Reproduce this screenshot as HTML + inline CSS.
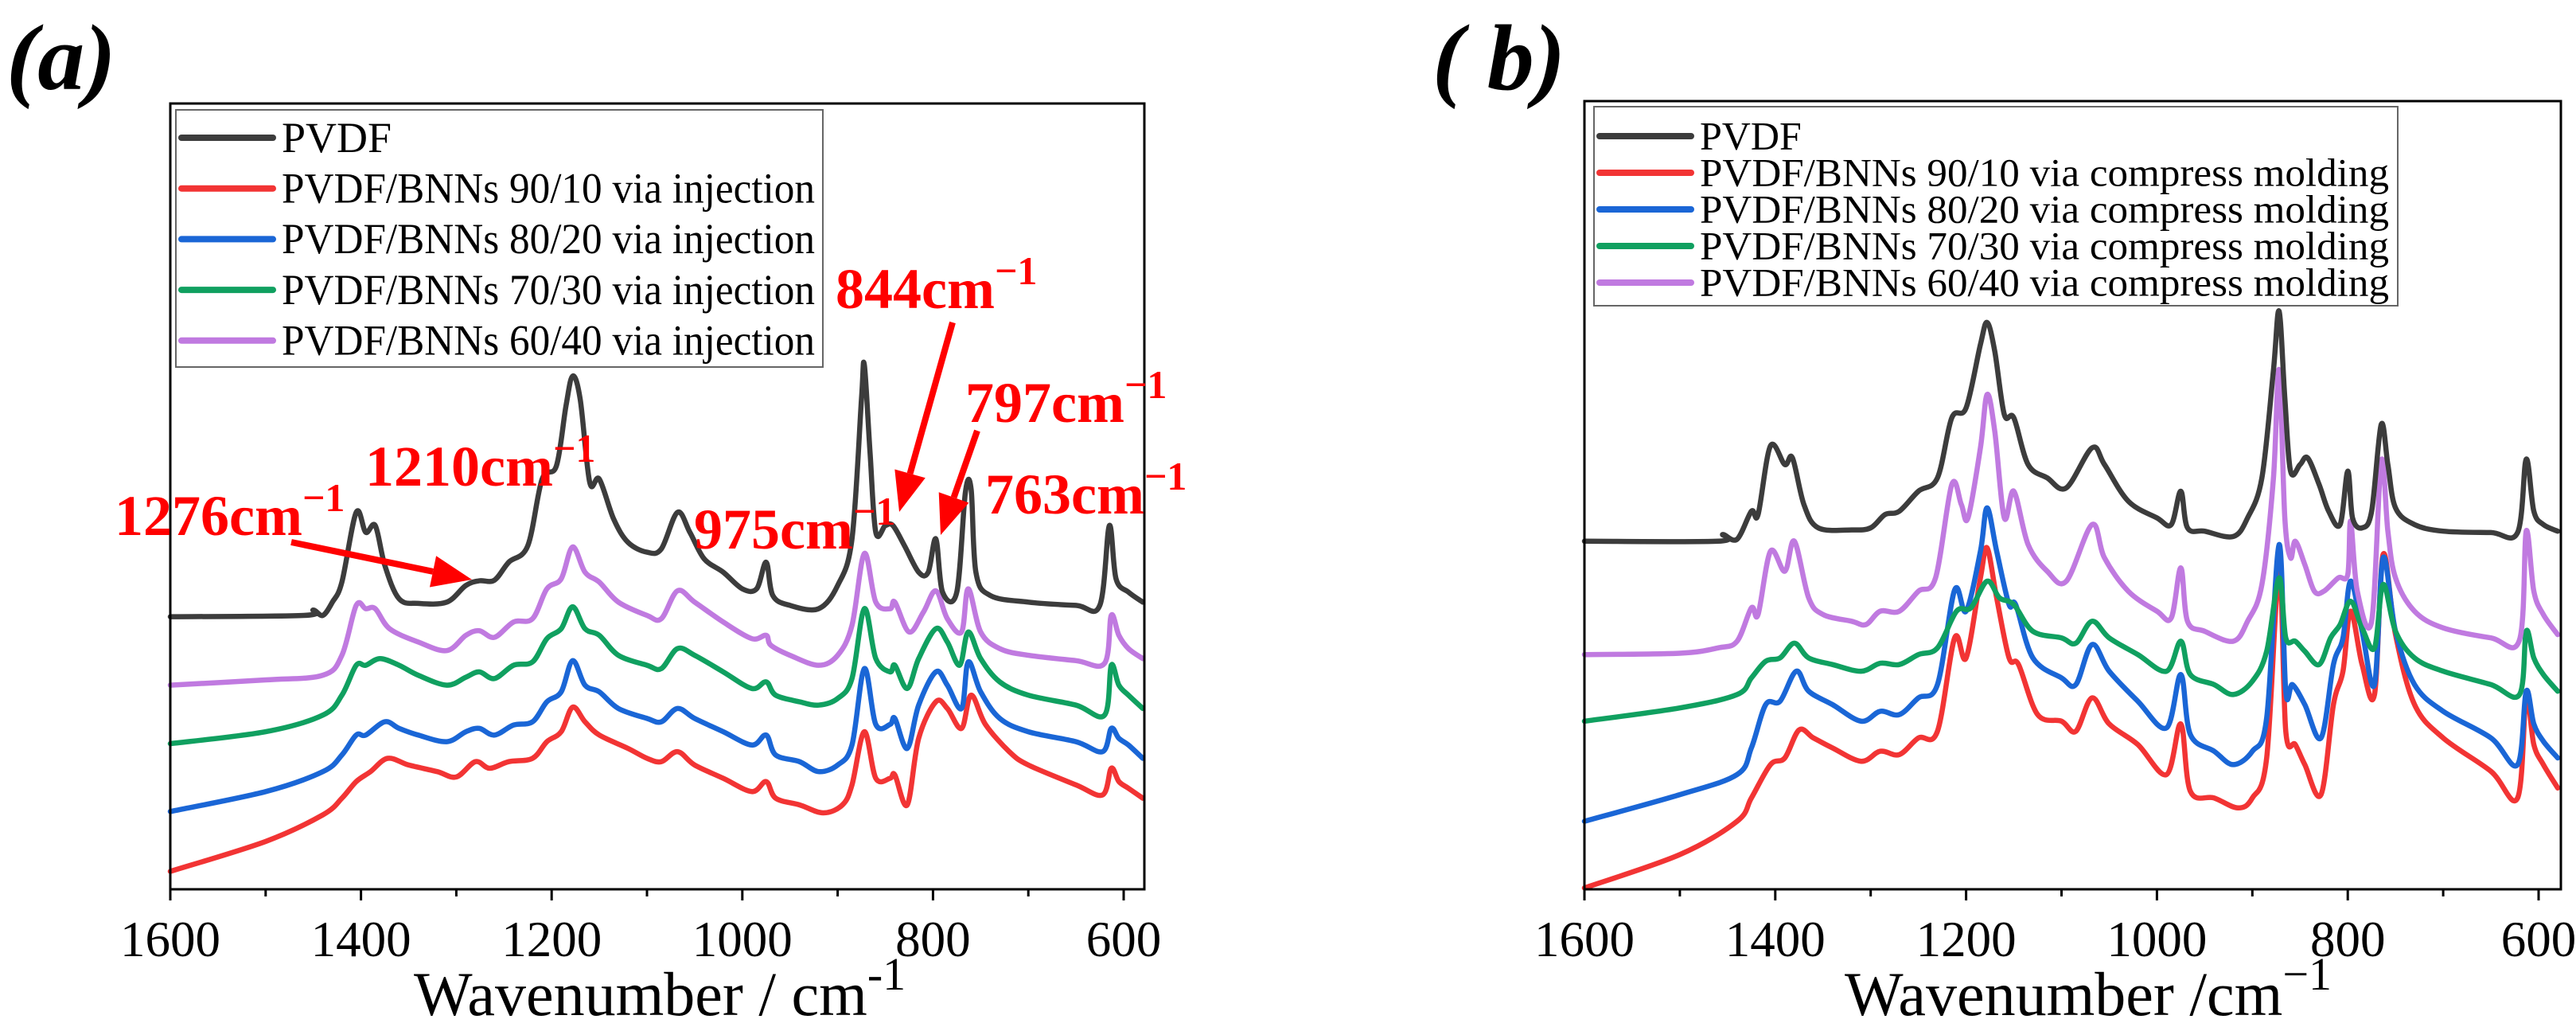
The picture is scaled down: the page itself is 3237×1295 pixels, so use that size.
<!DOCTYPE html>
<html><head><meta charset="utf-8"><style>
html,body{margin:0;padding:0;background:#fff;}
svg{display:block;font-family:"Liberation Serif",serif;}
</style></head><body>
<svg id="fig" width="3237" height="1295" viewBox="0 0 3237 1295" xmlns="http://www.w3.org/2000/svg">
<text x="8" y="112" font-size="118" font-weight="bold" font-style="italic">(a)</text>
<text x="1800" y="112" font-size="118" font-weight="bold" font-style="italic">( b)</text>
<g id="pa"></g>
<g id="pb"></g>
</svg>
<script>
const ticks = [1600,1400,1200,1000,800,600];
const minorTicks = [1600,1500,1400,1300,1200,1100,1000,900,800,700,600];
const colors = ["#3c3c3c","#f23434","#1a66d6","#10a060","#c07ae0"];
const legendA = ["PVDF","PVDF/BNNs 90/10 via injection","PVDF/BNNs 80/20 via injection","PVDF/BNNs 70/30 via injection","PVDF/BNNs 60/40 via injection"];
const legendB = ["PVDF","PVDF/BNNs 90/10 via compress molding","PVDF/BNNs 80/20 via compress molding","PVDF/BNNs 70/30 via compress molding","PVDF/BNNs 60/40 via compress molding"];
// Panel a
const aBlackX=[1600,1460,1450,1440,1430,1420,1405,1395,1385,1375,1360,1340,1310,1290,1276,1260,1245,1225,1210,1195,1185,1178,1170,1160,1150,1135,1120,1100,1085,1068,1055,1040,1020,1000,985,975,968,950,920,900,885,875,872,866,860,850,842,830,815,805,797,790,775,766,760,755,740,700,650,625,615,608,595,580];
const aBlackY=[41,41.2,42,41.2,43.2,46.2,56.7,53.7,54.7,48.7,43.7,43,43.2,45.7,46.4,46.5,49.2,51.7,61.7,63.7,72.7,77.2,73.7,61.2,61.7,55.7,52.2,50.7,51.2,56.7,53.7,49.7,47.7,45.2,45.2,49.2,44.2,42.7,42.2,45.7,52.7,73.7,78.9,65.7,53.7,54.7,54.7,51.7,47.7,47.7,52.7,44.7,44.7,59.7,60.2,47.7,44.2,43.2,42.7,42.7,54.7,46.7,44.7,43.2];
const aPurpleX=[1600,1500,1440,1420,1405,1395,1385,1370,1340,1310,1290,1276,1260,1240,1220,1205,1190,1178,1165,1150,1130,1100,1085,1068,1050,1020,990,975,970,950,920,900,885,872,860,845,840,825,810,797,785,770,763,750,730,700,650,620,613,605,595,580];
const aPurpleY=[30.7,31.5,32.2,35.2,42.7,42.2,42.2,39.2,37.2,35.9,38.2,38.9,37.9,40.2,40.7,45.2,46.7,51.5,47.7,46.2,43.2,41.2,40.7,44.9,43.2,40.2,37.7,38.2,36.7,35.2,33.7,35.2,39.7,50.5,43.2,42.2,43.2,38.7,41.7,44.9,40.7,38.7,45.2,38.7,36.2,35.2,34.4,34,41.2,38.2,36.2,34.7];
const aGreenX=[1600,1500,1440,1420,1405,1395,1380,1360,1340,1310,1290,1276,1260,1240,1220,1205,1190,1178,1165,1150,1130,1100,1085,1068,1050,1020,990,975,965,940,920,900,885,872,860,845,840,827,815,797,785,772,763,750,730,700,650,620,613,605,595,580];
const aGreenY=[21.9,23.7,26.2,29.2,33.7,33.7,34.7,33.7,32.2,30.7,31.9,32.7,31.7,33.7,34.2,37.7,39.2,42.5,39.2,38.2,35.2,33.7,33.2,36.2,35.2,32.7,30.2,31.2,29.2,28.2,27.7,28.7,31.7,42.2,34.7,32.7,33.7,30.2,34.7,39.2,37.2,33.7,38.7,34.7,31.2,29.2,27.7,26.2,33.7,30.7,29.2,27.2];
const aBlueX=[1600,1500,1440,1420,1405,1395,1375,1360,1340,1310,1290,1276,1260,1240,1220,1205,1190,1178,1165,1150,1130,1100,1085,1068,1050,1020,990,975,965,940,920,900,885,872,860,845,840,827,815,797,785,770,763,750,730,700,650,622,613,605,595,580];
const aBlueY=[11.7,14.7,17.7,20.2,23.2,23.2,25.2,24.2,23.2,22.2,23.7,24.2,23.2,24.7,25.2,28.2,29.7,34.4,30.7,29.7,27.2,25.7,25.2,27.2,25.7,23.7,21.7,23.2,20.2,19.2,17.7,18.7,21.7,33.2,24.8,24.8,25.7,21.2,27.7,32.7,30.7,27.2,34.2,29.7,25.7,23.7,22.2,20.7,24.2,22.7,21.7,19.7];
const aRedX=[1600,1500,1440,1420,1405,1390,1372,1350,1320,1300,1280,1265,1245,1220,1205,1190,1178,1165,1150,1120,1100,1085,1068,1050,1020,990,975,965,940,915,895,885,872,860,845,840,827,815,797,785,770,760,745,720,700,650,622,613,605,595,580];
const aRedY=[2.7,7.2,11.2,13.7,16.2,17.7,19.7,18.7,17.7,16.9,19.2,18.2,19.2,19.7,22.2,23.7,27.4,25.2,23.2,21.2,19.7,19.2,20.7,18.7,16.7,14.7,16.2,13.7,12.7,11.5,12.7,15.7,23.7,16.7,16.7,17.2,12.7,22.7,28.2,27.2,24.2,29.2,24.8,20.7,18.7,15.7,14.2,18.2,16.2,15.2,13.7];
// Panel b
const bBlackX=[1600,1460,1455,1440,1425,1418,1405,1390,1382,1370,1355,1320,1300,1285,1270,1250,1230,1215,1200,1185,1178,1170,1160,1150,1135,1115,1095,1068,1055,1030,1000,985,975,968,950,920,905,890,878,872,866,860,850,842,830,820,808,800,795,785,775,765,758,750,730,700,650,622,613,605,595,580];
const bBlackY=[52.2,52.2,53.2,52.5,56.7,56.2,66.5,63.7,64.7,57.7,54.2,53.9,54.2,56.2,56.7,59.7,61.7,70.7,72.2,81.7,85,80.7,71.2,70.7,63.7,61.7,60.2,66.2,63.7,58.2,55.7,54.7,59.7,54.2,53.7,52.9,55.7,61.7,77.7,86.7,73.7,62.7,63.7,64.7,60.7,56.7,54.7,62.7,55.7,54.2,56.7,69.7,63.7,57.2,54.7,53.7,53.5,53.5,64.5,56.7,54.7,53.7];
const bPurpleX=[1600,1500,1460,1440,1425,1418,1405,1390,1380,1365,1350,1320,1305,1290,1270,1250,1232,1215,1205,1198,1185,1178,1170,1160,1150,1135,1115,1095,1068,1055,1030,1000,985,975,968,950,920,905,890,878,872,866,860,855,845,835,825,810,800,797,790,775,765,758,750,730,700,650,620,613,605,595,580];
const bPurpleY=[35.2,35.4,36.2,37.2,42.2,41.2,50.7,47.7,52.2,43.7,41.2,40.2,39.7,41.7,41.7,44.7,46.7,60.7,57.7,55.7,66.2,74.2,68.7,55.7,59.7,51.7,47.7,46.2,54.7,49.7,44.7,41.7,40.7,48.2,40.2,38.7,37.2,40.2,45.7,61.5,77.9,55.7,49.7,52.2,48.7,44.7,44.7,46.7,47.2,55.2,44.7,40.2,64.2,53.7,46.7,41.7,39.2,37.7,37.4,53.7,44.7,41.2,38.2];
const bGreenX=[1600,1500,1440,1425,1410,1395,1380,1365,1340,1310,1290,1270,1250,1230,1210,1195,1178,1165,1150,1130,1100,1085,1068,1050,1020,990,975,965,940,920,900,885,872,865,855,845,830,818,808,797,785,772,763,750,730,700,650,620,613,605,595,580];
const bGreenY=[25.2,27.2,29.2,31.7,34.2,34.7,36.9,34.7,33.7,32.7,33.9,33.7,35.2,36.2,41.7,42.2,46.2,43.7,42.7,38.7,37.7,36.9,40.2,37.7,35.2,32.7,37.2,32.2,30.7,29.2,31.2,35.7,46.7,37.7,37.2,35.7,33.7,37.7,39.7,43.2,39.2,36.2,45.7,38.7,34.7,32.7,30.7,29.2,38.7,34.7,32.2,29.7];
const bBlueX=[1600,1500,1440,1425,1410,1395,1378,1365,1340,1310,1290,1270,1250,1230,1212,1200,1185,1178,1168,1155,1148,1130,1100,1085,1068,1050,1020,990,975,965,940,920,900,885,872,865,858,845,828,815,805,797,785,772,763,750,730,700,650,622,613,605,595,580];
const bBlueY=[10.2,14.2,17.2,21.2,27.7,28.2,32.7,29.7,27.7,25.2,26.7,26.2,28.7,30.7,44.9,41.7,50.7,57.2,50.7,42.7,42.7,34.7,31.7,30.7,36.7,32.7,28.2,24.2,32.2,23.2,20.7,18.7,20.7,25.7,51.7,29.7,30.7,27.7,22.7,33.7,37.7,46.2,38.7,30.7,49.7,38.7,30.7,26.7,22.7,18.7,29.7,24.8,22.2,19.7];
const bRedX=[1600,1500,1440,1425,1405,1390,1375,1360,1340,1310,1290,1270,1250,1230,1212,1200,1185,1178,1168,1155,1145,1125,1100,1085,1068,1050,1020,990,975,965,940,915,900,885,872,865,855,845,828,815,805,797,785,772,763,750,730,700,650,622,613,605,595,580];
const bRedY=[0.2,5.2,10.2,13.7,18.7,19.7,23.9,22.7,21.2,19.2,20.7,20.2,22.7,23.7,37.7,34.7,46.7,51.2,43.7,34.7,33.7,26.2,25.2,23.7,28.7,24.8,21.7,17.2,24.8,14.7,13.7,12.2,13.7,19.7,47.7,23.7,21.7,18.7,14.2,27.7,32.7,41.7,33.7,29.2,50.2,38.2,27.7,22.7,17.7,13.7,28.7,21.7,18.7,15.2];

const NS="http://www.w3.org/2000/svg";
function mk(tag,attrs,parent){const e=document.createElementNS(NS,tag);for(const k in attrs)e.setAttribute(k,attrs[k]);parent.appendChild(e);return e;}
function smoothPath(pts){
  let d="M"+pts[0][0].toFixed(1)+" "+pts[0][1].toFixed(1);
  for(let i=0;i<pts.length-1;i++){
    const p0=pts[Math.max(0,i-1)],p1=pts[i],p2=pts[i+1],p3=pts[Math.min(pts.length-1,i+2)];
    const t=1/6;
    const c1x=p1[0]+(p2[0]-p0[0])*t,c1y=p1[1]+(p2[1]-p0[1])*t;
    const c2x=p2[0]-(p3[0]-p1[0])*t,c2y=p2[1]-(p3[1]-p1[1])*t;
    d+="C"+c1x.toFixed(1)+" "+c1y.toFixed(1)+" "+c2x.toFixed(1)+" "+c2y.toFixed(1)+" "+p2[0].toFixed(1)+" "+p2[1].toFixed(1);
  }
  return d;
}

function drawPanel(g, P, seriesX, seriesY, legend, L, titleText){
  const xs = w => P.l + (1600 - w) * P.ppc;
  const ys = v => P.b - v / 118.2 * (P.b - P.t);
  const order=[1,2,3,4,0];
  order.forEach(i=>{
    const pts=seriesX[i].map((w,j)=>[xs(w),ys(seriesY[i][j])]);
    const p=mk("path",{d:smoothPath(pts),fill:"none",stroke:colors[i],"stroke-width":6.5,"stroke-linejoin":"round","stroke-linecap":"round"},g);
    
    
  });
  const fr=mk("rect",{x:P.l,y:P.t,width:P.r-P.l,height:P.b-P.t,fill:"none",stroke:"#000","stroke-width":3},g);
  
  
  minorTicks.forEach(w=>{
    const t=mk("line",{x1:xs(w),x2:xs(w),y1:P.b,y2:P.b+(w%200===0?14:9),stroke:"#000","stroke-width":3},g);
    
    
  });
  ticks.forEach(w=>{
    const t=mk("text",{x:xs(w),y:P.b+84,"font-size":63,"text-anchor":"middle"},g);
    t.textContent=w;
    
    
  });
  const tt=mk("text",{x:P.titleX,y:1275,"font-size":78},g);
  tt.innerHTML=titleText;
  
  
  const lb=mk("rect",{x:L.x,y:L.y,width:L.w,height:L.h,fill:"#fff",stroke:"#666","stroke-width":2},g);
  
  
  legend.forEach((s,i)=>{
    const yy=L.y0+i*L.dy;
    const ln=mk("line",{x1:L.x+7,x2:L.x+122,y1:yy,y2:yy,stroke:colors[i],"stroke-width":8,"stroke-linecap":"round"},g);
    
    
    const tx=mk("text",{x:L.x+133,y:yy+L.fs*0.33,"font-size":L.fs,textLength:L.tl,lengthAdjust:"spacingAndGlyphs"},g);
    if(i===0) tx.removeAttribute("textLength");
    tx.textContent=s;
    
    
  });
}
const pa=document.getElementById("pa"), pb=document.getElementById("pb");
drawPanel(pa,{l:214,r:1438,t:130,b:1117,ppc:1.198,titleX:520},
  [aBlackX,aRedX,aBlueX,aGreenX,aPurpleX],[aBlackY,aRedY,aBlueY,aGreenY,aPurpleY],legendA,
  {x:221,y:138,w:813,h:323,y0:173,dy:63.7,fs:54,tl:670},
  'Wavenumber / cm<tspan dy="-32" font-size="58">-1</tspan>');
drawPanel(pb,{l:1991,r:3218,t:127,b:1117,ppc:1.199,titleX:2318},
  [bBlackX,bRedX,bBlueX,bGreenX,bPurpleX],[bBlackY,bRedY,bBlueY,bGreenY,bPurpleY],legendB,
  {x:2003,y:134,w:1010,h:250,y0:171,dy:46,fs:50,tl:866},
  'Wavenumber /cm<tspan dy="-32" font-size="58">−1</tspan>');
const anns=[["1276",144,672],["1210",459,610],["975",872,689],["844",1050,387],["797",1213,530],["763",1238,645]];
anns.forEach(a=>{
  const t=mk("text",{x:a[1],y:a[2],"font-size":72,"font-weight":"bold",fill:"#ff0000"},pa);
  t.innerHTML=a[0]+'cm<tspan dy="-30" font-size="50">−1</tspan>';
  
  
});
const arrows=[[366,681,593,728],[1197,405,1130,643],[1228,541,1182,672]];
arrows.forEach(a=>{
  const [x1,y1,x2,y2]=a;const dx=x2-x1,dy=y2-y1,len=Math.hypot(dx,dy),ux=dx/len,uy=dy/len;
  const hl=50,hw=20;const bx=x2-ux*hl,by=y2-uy*hl;
  const ln=mk("line",{x1:x1,y1:y1,x2:bx,y2:by,stroke:"#ff0000","stroke-width":8},pa);
  
  
  const hd=mk("polygon",{points:`${x2},${y2} ${bx-uy*hw},${by+ux*hw} ${bx+uy*hw},${by-ux*hw}`,fill:"#ff0000"},pa);
  
  
});
</script>
</body></html>
